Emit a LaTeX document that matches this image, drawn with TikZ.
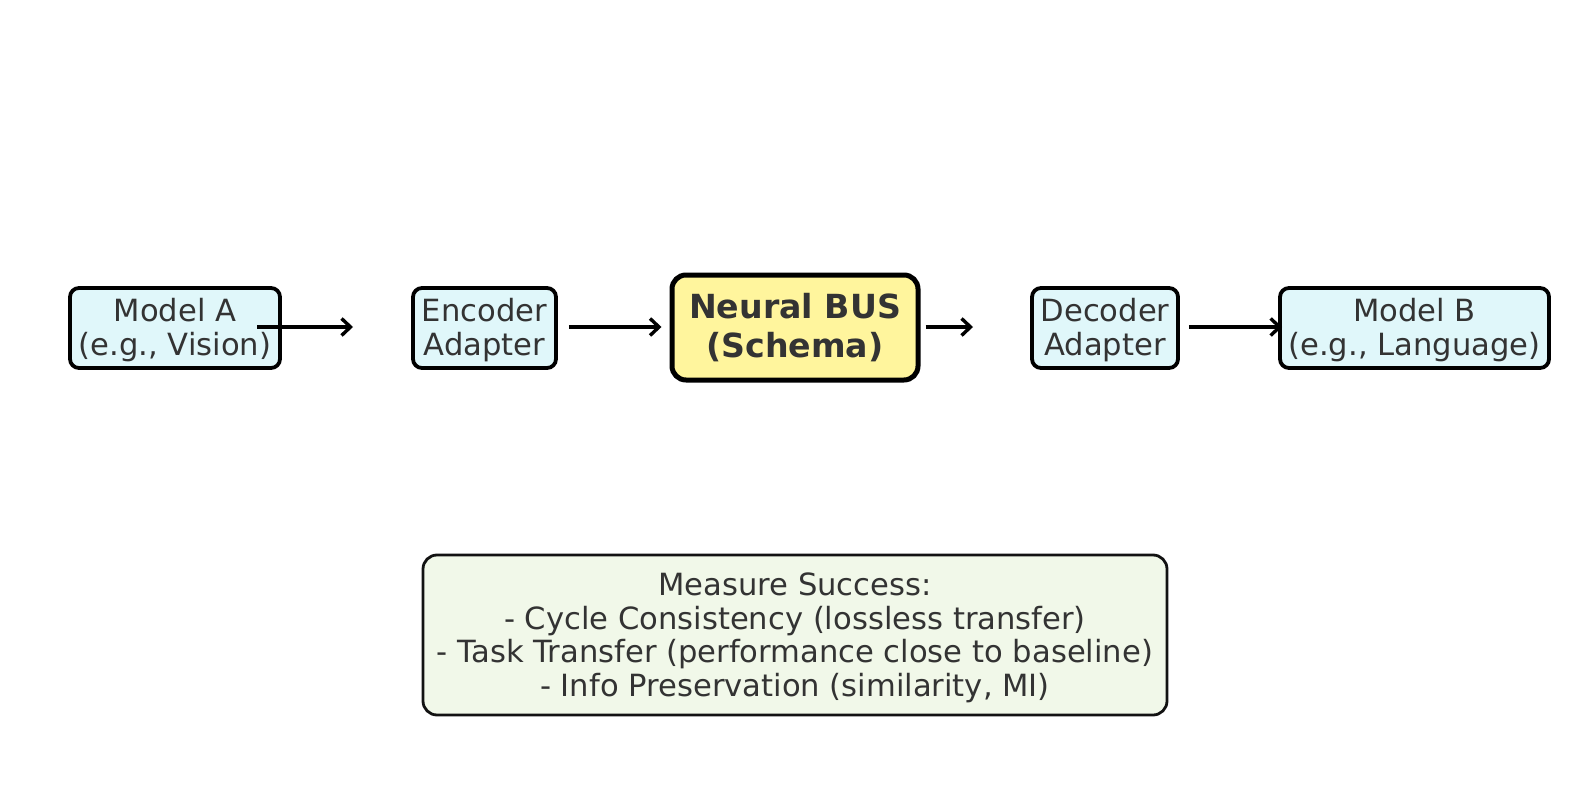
\documentclass[tikz,border=0pt]{standalone}
\usepackage{fontspec}
\setmainfont{DejaVu Sans}
\usetikzlibrary{arrows.meta}
\definecolor{txt}{HTML}{333333}
\definecolor{cyanfill}{HTML}{E0F7FA}
\definecolor{busfill}{HTML}{FFF59D}
\definecolor{greenfill}{HTML}{F1F8E9}
\newcommand{\lowerstrut}[1]{\rule{0pt}{#1}}
\tikzset{
  modelbox/.style={draw=black, line width=3.8pt, fill=cyanfill, rounded corners=9pt, text=txt,
    inner sep=0pt, align=center, font=\fontsize{30.6}{33.5}\selectfont},
  busbox/.style={draw=black, line width=5pt, fill=busfill, rounded corners=14pt, text=txt,
    inner sep=0pt, align=center, font=\fontsize{33.2}{38.5}\selectfont\bfseries},
  measurebox/.style={draw=black!93, line width=2.8pt, fill=greenfill, rounded corners=14pt, text=txt,
    inner sep=0pt, align=center, font=\fontsize{30.6}{33.5}\selectfont},
  flow/.style={draw=black, line width=3.4pt, -{Straight Barb[length=9pt,width=17pt,line width=3.4pt]}}
}
\begin{document}
\begin{tikzpicture}[x=1pt,y=-1pt]
\useasboundingbox (0,0) rectangle (1589,810);
\node[modelbox, minimum width=210pt, minimum height=80pt] (mA) at (175,328) {\lowerstrut{27.3pt}Model A\\(e.g., Vision)};
\node[modelbox, minimum width=143pt, minimum height=80pt] (enc) at (484.5,328) {\lowerstrut{27.3pt}Encoder\\Adapter};
\node[busbox, minimum width=246pt, minimum height=105pt] (bus) at (795,327.5) {Neural BUS\\(Schema)};
\node[modelbox, minimum width=146pt, minimum height=80pt] (dec) at (1105,328) {\lowerstrut{27.3pt}Decoder\\Adapter};
\node[modelbox, minimum width=269pt, minimum height=80pt] (mB) at (1414.5,328) {\lowerstrut{27.3pt}Model B\\(e.g., Language)};
\node[measurebox, minimum width=744pt, minimum height=160pt] (meas) at (795,635) {\lowerstrut{28.5pt}Measure Success:\\- Cycle Consistency (lossless transfer)\\- Task Transfer (performance close to baseline)\\- Info Preservation (similarity, MI)};
\coordinate (a1s) at (257,327);
\coordinate (a1e) at (353,327);
\coordinate (a3e) at (973,327);
\draw[flow] (a1s) -- (a1e);
\draw[flow] ([xshift=11pt]enc.east |- a1s) -- ([xshift=-8pt]bus.west |- a1s);
\draw[flow] ([xshift=5pt]bus.east |- a1s) -- (a3e);
\draw[flow] ([xshift=9pt]dec.east |- a1s) -- ([xshift=4pt]mB.west |- a1s);
\end{tikzpicture}
\end{document}
